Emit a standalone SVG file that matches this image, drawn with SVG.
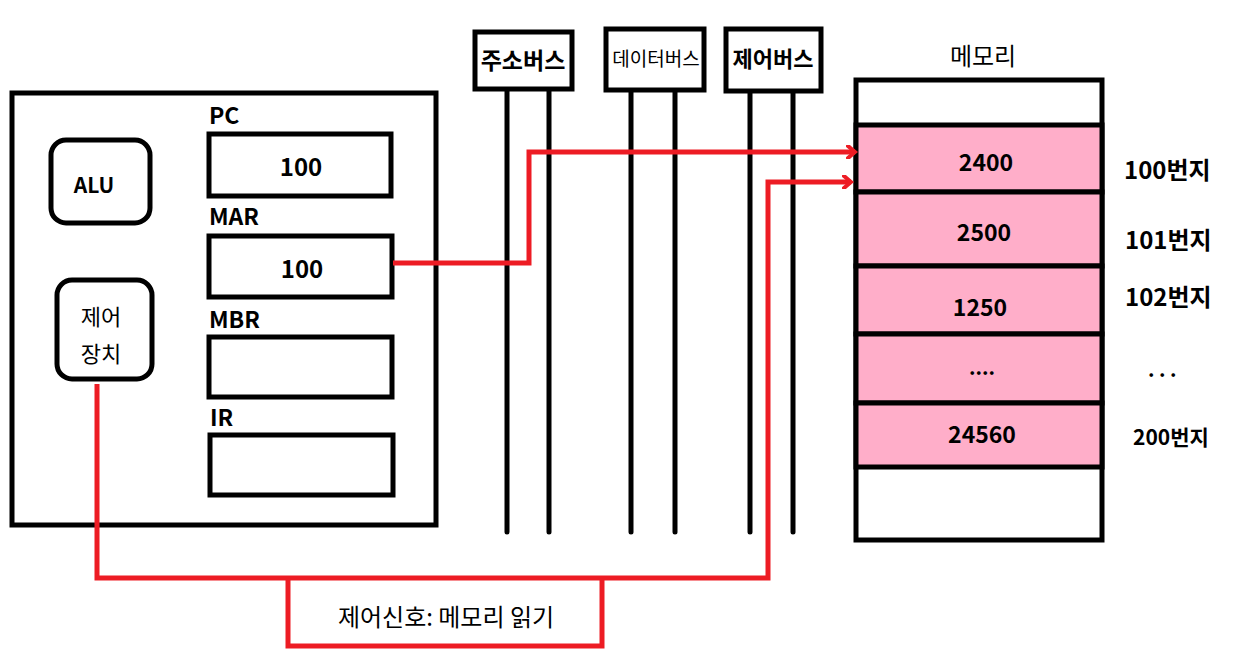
<svg xmlns="http://www.w3.org/2000/svg" width="1241" height="661" viewBox="0 0 1241 661">
<style>
.box{fill:#fff;stroke:#000;stroke-width:5}
.bus{stroke:#000;stroke-width:5;stroke-linecap:round}
.cell{fill:#FFAEC9;stroke:#000;stroke-width:5}
.red{fill:none;stroke:#ED1C24;stroke-width:5;stroke-linejoin:miter}
.t{font-family:"Noto Sans CJK KR","Noto Sans",sans-serif;fill:#000}
.b{font-weight:bold}
.m{text-anchor:middle}
</style>
<defs>
<marker id="arr" markerWidth="12" markerHeight="14" refX="9" refY="7" orient="auto" markerUnits="userSpaceOnUse">
<polyline points="2,1 9,7 2,13" fill="none" stroke="#ED1C24" stroke-width="4" stroke-linecap="round"/>
</marker>
</defs>
<rect width="1241" height="661" fill="#fff"/>
<g id="cpu">
<rect class="box" x="12" y="93" width="424" height="432"/>
</g>
<g id="alu">
<rect class="box" x="51" y="140" width="99" height="83" rx="15"/>
<text class="t b m" x="94" y="193" font-size="21">ALU</text>
</g>
<g id="control-unit">
<rect class="box" x="57" y="280" width="95" height="99" rx="15"/>
<text class="t m" x="101" y="325" font-size="22">제어</text>
<text class="t m" x="101" y="362" font-size="22">장치</text>
</g>
<g id="pc">
<text class="t b" x="209" y="124" font-size="23">PC</text>
<rect class="box" x="209" y="134" width="182" height="62"/>
<text class="t b m" x="301" y="176" font-size="24">100</text>
</g>
<g id="mar">
<text class="t b" x="209" y="225" font-size="23">MAR</text>
<rect class="box" x="209" y="236" width="183" height="61"/>
<text class="t b m" x="302" y="278" font-size="24">100</text>
</g>
<g id="mbr">
<text class="t b" x="209" y="328" font-size="23">MBR</text>
<rect class="box" x="209" y="337" width="183" height="60"/>
</g>
<g id="ir">
<text class="t b" x="210" y="426" font-size="23">IR</text>
<rect class="box" x="210" y="435" width="183" height="60"/>
</g>
<g id="address-bus">
<line class="bus" x1="507" y1="90" x2="507" y2="532"/>
<line class="bus" x1="549" y1="90" x2="549" y2="532"/>
<rect class="box" x="475" y="32" width="97" height="57"/>
<text class="t b m" x="523" y="69" font-size="23">주소버스</text>
</g>
<g id="data-bus">
<line class="bus" x1="631" y1="90" x2="631" y2="532"/>
<line class="bus" x1="675" y1="90" x2="675" y2="532"/>
<rect class="box" x="606" y="29" width="98" height="61"/>
<text class="t m" x="656" y="66" font-size="19">데이터버스</text>
</g>
<g id="control-bus">
<line class="bus" x1="750" y1="90" x2="750" y2="532"/>
<line class="bus" x1="793" y1="90" x2="793" y2="532"/>
<rect class="box" x="726" y="29" width="95" height="62"/>
<text class="t b m" x="773" y="67" font-size="22">제어버스</text>
</g>
<g id="memory">
<text class="t m" x="983" y="65" font-size="24">메모리</text>
<rect class="box" x="856" y="80" width="246" height="460"/>
<rect class="cell" x="856" y="125" width="246" height="67"/>
<rect class="cell" x="856" y="192" width="246" height="74"/>
<rect class="cell" x="856" y="266" width="246" height="68"/>
<rect class="cell" x="856" y="334" width="246" height="69"/>
<rect class="cell" x="856" y="403" width="246" height="64"/>
<text class="t b m" x="986" y="171" font-size="23">2400</text>
<text class="t b m" x="984" y="241" font-size="23">2500</text>
<text class="t b m" x="980" y="316" font-size="23">1250</text>
<text class="t b m" x="982" y="375" font-size="20">....</text>
<text class="t b m" x="982" y="443" font-size="23">24560</text>
</g>
<g id="addresses">
<text class="t b" x="1124" y="179" font-size="24">100번지</text>
<text class="t b" x="1125" y="249" font-size="24">101번지</text>
<text class="t b" x="1125" y="306" font-size="24">102번지</text>
<text class="t b" x="1148" y="377" font-size="20">. . .</text>
<text class="t b" x="1133" y="445" font-size="21">200번지</text>
</g>
<g id="connectors">
<polyline class="red" points="393,263 529,263 529,152 855,152" marker-end="url(#arr)"/>
<polyline class="red" points="97,384 97,578 768,578 768,182 851,182" marker-end="url(#arr)"/>
</g>
<g id="signal-label">
<polyline class="red" points="288,578 288,646 602,646 602,578"/>
<text class="t m" x="446" y="626" font-size="24">제어신호: 메모리 읽기</text>
</g>
</svg>
